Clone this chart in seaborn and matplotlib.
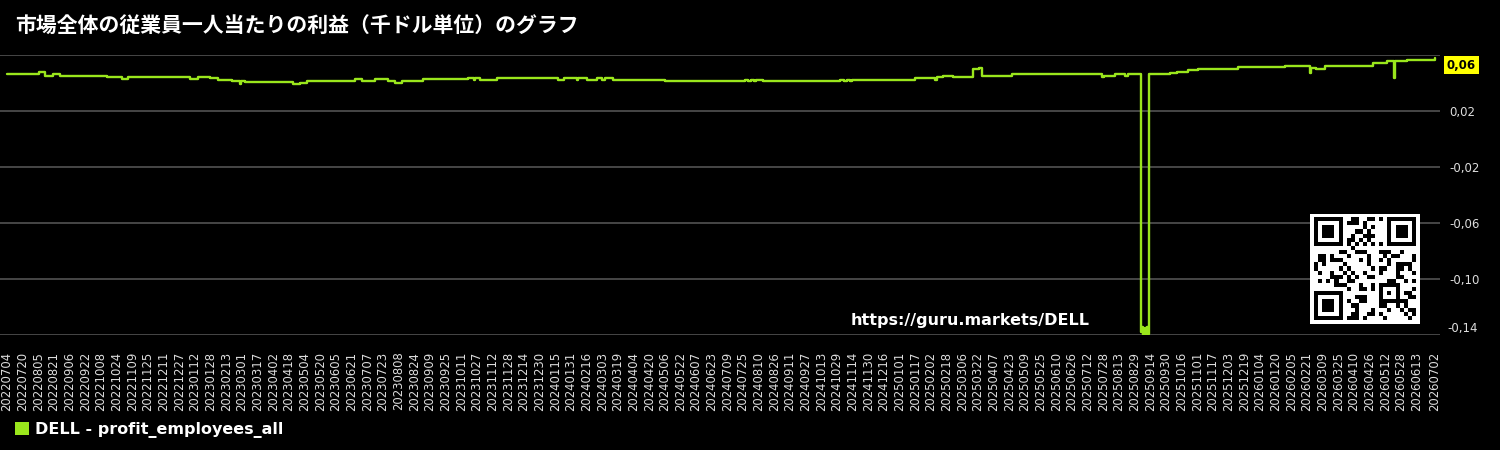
import numpy as np
import pandas as pd
import matplotlib
matplotlib.use("Agg")
import matplotlib.pyplot as plt
from matplotlib.patches import Patch
import seaborn as sns

# ---------------- data ----------------
title = "市場全体の従業員一人当たりの利益（千ドル単位）のグラフ"
series_name = "DELL - profit_employees_all"
url_text = "https://guru.markets/DELL"
start_date = "20220704"
end_date = "20260702"

bp_dates = [
    "20220704", "20220806", "20220812", "20220820", "20220827", "20221014", "20221029", "20221105",
    "20230107", "20230115", "20230127", "20230205", "20230219", "20230227", "20230228", "20230304",
    "20230422", "20230429", "20230506", "20230625", "20230702", "20230715", "20230728", "20230804",
    "20230812", "20230902", "20231018", "20231024", "20231025", "20231030", "20231117",
    "20240118", "20240124", "20240206", "20240207", "20240217", "20240227", "20240303", "20240306",
    "20240314", "20240506", "20240727", "20240730", "20240802", "20240805", "20240807", "20240814",
    "20241101", "20241105", "20241108", "20241111", "20241113",
    "20250117", "20250206", "20250208", "20250214", "20250224", "20250317", "20250323", "20250326",
    "20250426", "20250727", "20250729", "20250809", "20250819", "20250822",
    "20250905", "20250906", "20250907", "20250908", "20250909", "20250910", "20250911", "20250912",
    "20250913", "20251004", "20251011", "20251023", "20251102", "20251213",
    "20260130", "20260224", "20260225", "20260302", "20260312", "20260430", "20260514", "20260521",
    "20260522", "20260603", "20260702",
]
bp_values = [
    0.0464, 0.0476, 0.0452, 0.0464, 0.0452, 0.0441, 0.0431, 0.0443,
    0.0431, 0.0443, 0.0433, 0.0424, 0.0417, 0.0395, 0.0417, 0.0405,
    0.0393, 0.0400, 0.0414, 0.0426, 0.0414, 0.0426, 0.0414, 0.0402,
    0.0414, 0.0426, 0.0436, 0.0424, 0.0436, 0.0424, 0.0436,
    0.0424, 0.0436, 0.0424, 0.0436, 0.0424, 0.0436, 0.0424, 0.0436,
    0.0424, 0.0412, 0.0424, 0.0412, 0.0424, 0.0412, 0.0424, 0.0412,
    0.0424, 0.0412, 0.0424, 0.0412, 0.0424,
    0.0436, 0.0420, 0.0443, 0.0452, 0.0443, 0.0500, 0.0507, 0.0452,
    0.0462, 0.0445, 0.0450, 0.0462, 0.0450, 0.0462,
    -0.1380, -0.1345, -0.1400, -0.1365, -0.1350, -0.1395, -0.1340, -0.1390,
    0.0462, 0.0469, 0.0481, 0.0490, 0.0502, 0.0512,
    0.0521, 0.0469, 0.0505, 0.0502, 0.0521, 0.0540, 0.0555, 0.0433,
    0.0555, 0.0567, 0.0580,
]
last_label = "0,06"

ytick_vals = [0.06, 0.02, -0.02, -0.06, -0.10, -0.14]
ytick_text = ["", "0,02", "-0,02", "-0,06", "-0,10", "-0,14"]

# ---------------- styling ----------------
sns.set_theme(style="dark", rc={
    "figure.facecolor": "black",
    "axes.facecolor": "black",
    "savefig.facecolor": "black",
})
plt.rcParams["font.family"] = ["DejaVu Sans", "Noto Sans CJK JP"]

line_color = "#9ae61c"
grid_color = "#5a5a5a"
tick_color = "#dddddd"

t0 = pd.to_datetime(start_date)
t_end = pd.to_datetime(end_date)
df = pd.DataFrame({
    "day": (pd.to_datetime(bp_dates) - t0).days,
    "value": bp_values,
})

fig = plt.figure(figsize=(15, 4.5), dpi=100)
ax = fig.add_axes([0.0, 1 - 335 / 450, 1440 / 1500, 280 / 450])
ax.set_facecolor("black")

sns.lineplot(data=df, x="day", y="value", ax=ax, color=line_color,
             linewidth=1.7, drawstyle="steps-post", estimator=None, sort=True)

ax.set_xlim(-7.2, 1464)
ax.set_ylim(-0.14, 0.06)

# x ticks every 16 days (leaving room before the final date) + final date
tick_dates = [d for d in pd.date_range(t0, t_end, freq="16D")
              if (t_end - d).days >= 16]
tick_dates.append(t_end)
ax.set_xticks([(d - t0).days for d in tick_dates])
ax.set_xticklabels([d.strftime("%Y%m%d") for d in tick_dates], rotation=90,
                   fontsize=8.4, color=tick_color)
ax.tick_params(axis="x", length=0, pad=12)

ax.yaxis.tick_right()
ax.set_yticks(ytick_vals)
ax.set_yticklabels(["" if t == "-0,14" else t for t in ytick_text],
                   fontsize=8.5, color=tick_color)
ax.tick_params(axis="y", length=0, pad=7)
for lab in ax.get_yticklabels():
    lab.set_ha("left")
ax.text(1 + 7 / 1440, -0.14, "-0,14", transform=ax.get_yaxis_transform(),
        fontsize=8.5, color=tick_color, ha="left", va="bottom")

ax.grid(axis="y", color=grid_color, linewidth=1.1)
ax.grid(axis="x", visible=False)
for s in ax.spines.values():
    s.set_visible(False)
ax.set_xlabel("")
ax.set_ylabel("")

# last value box
ax.annotate(last_label, xy=(1, bp_values[-1]), xycoords=("axes fraction", "data"),
            xytext=(15.5, -5.3), textcoords="offset points", ha="center", va="center",
            fontsize=8.5, fontweight="bold", color="black",
            bbox=dict(boxstyle="square,pad=0.22", fc="#ffff00", ec="none"))

# title
fig.text(15 / 1500, 1 - 26 / 450, title, fontsize=15, fontweight="bold", color="white",
         ha="left", va="center", family=["Noto Sans CJK JP", "DejaVu Sans"])

# url
fig.text(851 / 1500, 1 - 320 / 450, url_text, fontsize=11.5, fontweight="bold",
         color="white", ha="left", va="center")

# legend
leg = fig.legend(handles=[Patch(facecolor=line_color, edgecolor="none", label=series_name)],
                 loc="center left", bbox_to_anchor=(1 / 1500, 1 - 430 / 450),
                 frameon=False, handlelength=0.85, handleheight=0.85, handletextpad=0.4,
                 prop={"weight": "bold", "size": 11.5})
for t in leg.get_texts():
    t.set_color("white")

# QR-like decoration
n = 25
qr = np.zeros((n, n), dtype=int)
for i in range(n):
    for j in range(n):
        qr[i, j] = 1 if ((i * 31 + j * 17 + i * j) ** 2 % 23) > 11 else 0
def finder(r, c):
    qr[max(r - 1, 0):r + 8, max(c - 1, 0):c + 8] = 0
    qr[r:r + 7, c:c + 7] = 1
    qr[r + 1:r + 6, c + 1:c + 6] = 0
    qr[r + 2:r + 5, c + 2:c + 5] = 1
finder(0, 0); finder(0, n - 7); finder(n - 7, 0)
qr[6, 8:n - 8] = [(k + 1) % 2 for k in range(8, n - 8)]
qr[8:n - 8, 6] = [(k + 1) % 2 for k in range(8, n - 8)]
qr[16:21, 16:21] = 1
qr[17:20, 17:20] = 0
qr[18, 18] = 1
full = np.zeros((n + 2, n + 2), dtype=int)
full[1:-1, 1:-1] = qr
qax = fig.add_axes([1310 / 1500, 1 - 324 / 450, 110 / 1500, 110 / 450])
qax.imshow(1 - full, cmap="gray", vmin=0, vmax=1, interpolation="nearest", aspect="auto")
qax.axis("off")

fig.savefig("out.png", dpi=100, facecolor="black")
